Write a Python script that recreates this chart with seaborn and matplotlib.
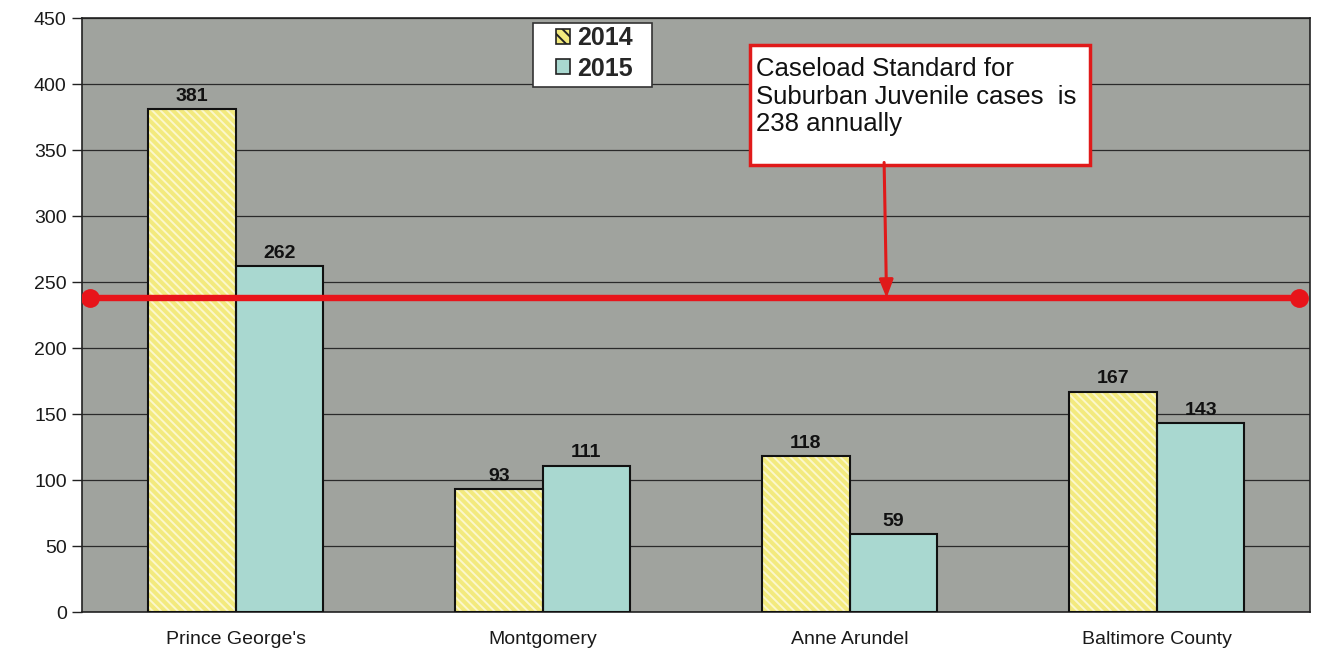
import matplotlib
matplotlib.use("Agg")
import matplotlib.pyplot as plt
import matplotlib.transforms as mtransforms
from matplotlib.patches import Rectangle, Patch
import seaborn as sns
import pandas as pd

# Juvenile caseload per county, two fiscal years
counties = ["Prince George's", "Montgomery", "Anne Arundel", "Baltimore County"]
cases_2014 = [381, 93, 118, 167]
cases_2015 = [262, 111, 59, 143]
years = ["2014", "2015"]
standard = 238
y_ticks = list(range(0, 451, 50))

df = pd.DataFrame({
    "county": counties * 2,
    "year": [years[0]] * len(counties) + [years[1]] * len(counties),
    "cases": cases_2014 + cases_2015,
})

sns.set_theme(style="white")
plt.rcParams["font.family"] = ["Liberation Sans", "DejaVu Sans"]
plt.rcParams["hatch.linewidth"] = 1.4

yellow = "#f3ea7e"
yellow_stripe = "#fbf7cc"
teal = "#a9d8d0"
bg = "#a0a39e"

fig = plt.figure(figsize=(13.18, 6.49), dpi=100)
ax = fig.add_axes([0.0622, 0.057, 0.932, 0.915])
ax.set_facecolor(bg)

sns.barplot(data=df, x="county", y="cases", hue="year", order=counties,
            hue_order=years, palette=[yellow, teal], width=0.57, gap=0,
            edgecolor="#111111", linewidth=1.5, saturation=1, ax=ax,
            legend=False, zorder=3)

n = len(counties)
bars = [p for p in ax.patches if isinstance(p, Rectangle)][: 2 * n]
for p in bars[:n]:
    # striped fill for the 2014 bars, outline redrawn on top
    p.set_hatch("\\\\\\\\")
    p.set_edgecolor(yellow_stripe)
    p.set_linewidth(0)
    ax.add_patch(Rectangle((p.get_x(), p.get_y()), p.get_width(), p.get_height(),
                           fill=False, edgecolor="#111111", linewidth=1.5, zorder=4))

for c in ax.containers:
    ax.bar_label(c, fmt="%d", padding=3, fontsize=14, fontweight="bold",
                 color="#111111")

ax.set_ylim(0, 450)
ax.set_xlim(-0.5, n - 0.5)
ax.set_yticks(y_ticks)
ax.set_yticklabels([str(t) for t in y_ticks], fontsize=14, color="#1a1a1a")
ax.set_xticks(range(n))
ax.set_xticklabels(counties, fontsize=14, color="#1a1a1a")
ax.tick_params(axis="x", length=0, pad=14)
ax.set_xticks([i + 0.5 for i in range(n - 1)], minor=True)
ax.tick_params(axis="x", which="minor", length=5, width=1, color="#222222",
               direction="out")
ax.tick_params(axis="y", length=7, width=1, color="#222222", direction="out",
               left=True, pad=4)
ax.set_xlabel("")
ax.set_ylabel("")
ax.yaxis.grid(True, color="#2a2a2a", linewidth=0.9)
ax.set_axisbelow(True)
for s in ax.spines.values():
    s.set_color("#222222")
    s.set_linewidth(1.2)

# caseload standard line across the plot
trans = mtransforms.blended_transform_factory(ax.transAxes, ax.transData)
ax.plot([0.0065, 0.991], [standard, standard], transform=trans, color="#e8141a",
        linewidth=4.6, marker="o", markersize=12.5, solid_capstyle="butt", zorder=6)

# annotation box with arrow
box = Rectangle((0.544, 0.753), 0.277, 0.202, transform=ax.transAxes,
                facecolor="white", edgecolor="#e01a1a", linewidth=2.5, zorder=7)
ax.add_patch(box)
ax.text(0.5485, 0.934, "Caseload Standard for\nSuburban Juvenile cases  is\n238 annually",
        transform=ax.transAxes, ha="left", va="top", fontsize=18.5, color="#111111",
        linespacing=1.18, zorder=8)
ax.annotate("", xy=(0.655, standard), xycoords=trans,
            xytext=(0.653, 0.757), textcoords=ax.transAxes,
            arrowprops=dict(arrowstyle="-|>,head_length=0.9,head_width=0.35",
                            color="#e01a1a", linewidth=2.2, shrinkA=0, shrinkB=0),
            zorder=8)

# legend: white frame drawn separately, entries placed inside it
ax.add_patch(Rectangle((0.3673, 0.8838), 0.0969, 0.1078, transform=ax.transAxes,
                       facecolor="white", edgecolor="#333333", linewidth=1.2,
                       zorder=8))
handles = [Patch(facecolor=yellow, edgecolor="#222222", hatch="\\\\\\", linewidth=1.2),
           Patch(facecolor=teal, edgecolor="#222222", linewidth=1.2)]
leg = ax.legend(handles, years, loc="upper left", bbox_to_anchor=(0.3860, 0.986),
                frameon=False, prop={"weight": "bold", "size": 18},
                handlelength=0.55, handleheight=0.55, handletextpad=0.3,
                borderpad=0, labelspacing=0.25, borderaxespad=0)
leg.set_zorder(9)

fig.savefig("out.png", dpi=100)
